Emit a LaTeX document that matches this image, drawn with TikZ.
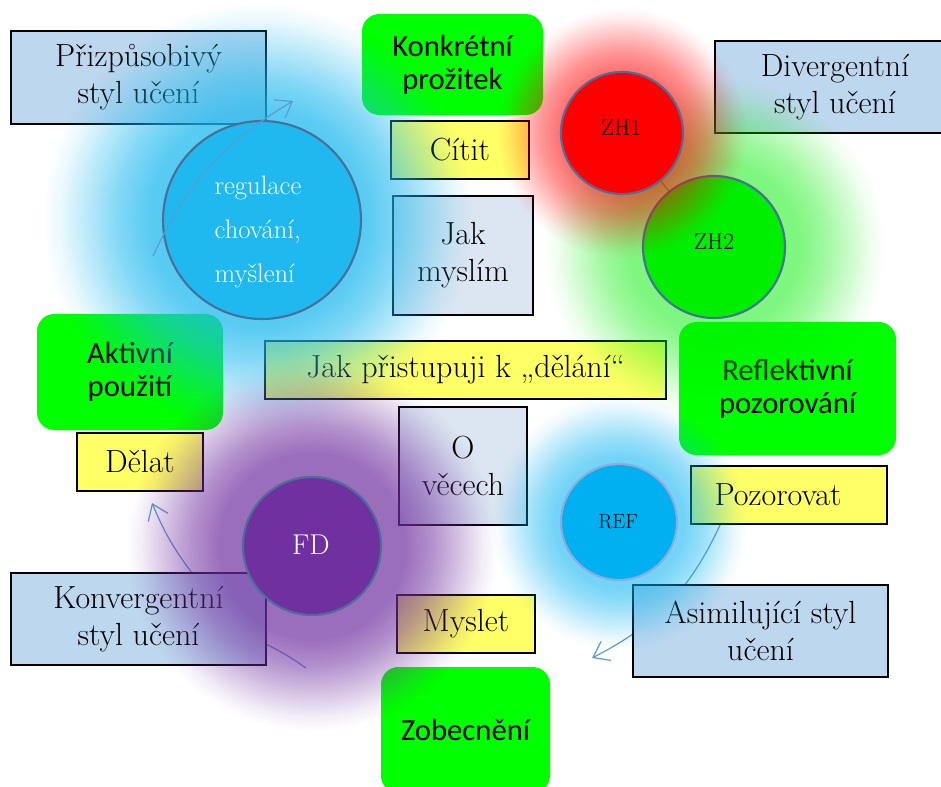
\documentclass[tikz,border=0pt]{standalone}
\usepackage{fontspec}
\newfontfamily\boxsans{Carlito}
\usetikzlibrary{arrows.meta,fadings}

% palette
\definecolor{styleblue}{HTML}{BDD7EE}
\definecolor{paleblue}{HTML}{DCE6F2}
\definecolor{yellowfill}{HTML}{FFFF66}
\definecolor{greenfill}{HTML}{00FF00}
\definecolor{regblue}{HTML}{20B9EF}
\definecolor{refblue}{HTML}{00B0F0}
\definecolor{fdpurple}{HTML}{7030A0}
\definecolor{zhred}{HTML}{FF0000}
\definecolor{zhgreen}{HTML}{00EE00}
\definecolor{ringblue}{HTML}{4A6F98}
\definecolor{ringlight}{HTML}{8FAADC}
\definecolor{arrowblue}{HTML}{5B9BD5}

% soft halo: opaque core, fading out to nothing at the rim of the path
% (25bp of the shading corresponds to the radius of the filled circle)
\pgfdeclareradialshading{haloshade}{\pgfpointorigin}{%
  color(0bp)=(white); color(12.5bp)=(white);
  color(16.25bp)=(white!75!black); color(20bp)=(white!40!black);
  color(23bp)=(white!12!black); color(25bp)=(black); color(50bp)=(black)}
\pgfdeclarefading{halofade}{\pgfuseshading{haloshade}}

\newcommand\serifbig{\fontsize{24}{27.75}\selectfont}
\newcommand\sansbig{\boxsans\fontsize{23}{24.75}\selectfont}

\pgfdeclarelayer{under}
\pgfsetlayers{under,main}

\tikzset{
  stylebox/.style={draw=black, line width=0.8pt, fill=styleblue,
    font=\serifbig, align=center, inner sep=0pt},
  palebox/.style={stylebox, fill=paleblue},
  yellowbox/.style={stylebox, fill=yellowfill},
  greenbox/.style={fill=greenfill, rounded corners=13pt,
    font=\sansbig, align=center, inner sep=0pt},
  ring/.style={circle, draw=ringblue, line width=1.6pt, inner sep=0pt},
  halo/.style={path fading=halofade, fill=#1},
  cyclearrow/.style={draw=arrowblue, line width=0.9pt},
  cyclehead/.style={cyclearrow, -{Straight Barb[length=11pt,width=16pt,line width=0.9pt]}},
}

\begin{document}
\begin{tikzpicture}[x=0.75pt,y=-0.75pt]
\useasboundingbox (0,0) rectangle (941,787);

% ---------- text boxes ----------
\node[stylebox, minimum width=191.25pt, minimum height=69.75pt] (adapt) at (138.5,77.5)
  {Přizpůsobivý\\styl učení};
\node[stylebox, minimum width=180pt, minimum height=69pt] (diverg) at (835,87)
  {Divergentní\\styl učení};
\node[stylebox, minimum width=191.25pt, minimum height=69pt] (konverg) at (138.5,619)
  {Konvergentní\\styl učení};
\node[stylebox, minimum width=191.25pt, minimum height=69pt] (asimil) at (760.5,631)
  {Asimilující styl\\učení};

\node[greenbox, minimum width=135.75pt, minimum height=75.75pt] (konkr) at (452.5,64.5)
  {Konkrétní\\prožitek};
\node[greenbox, minimum width=139.5pt, minimum height=87pt] (aktiv) at (130,372)
  {Aktivní\\použití};
\node[greenbox, minimum width=162.75pt, minimum height=99.75pt] (reflekt) at (787.5,388.5)
  {Reflektivní\\pozorování};
\node[greenbox, minimum width=126.75pt, minimum height=94.5pt] (zobec) at (465.5,730)
  {Zobecnění};

\node[yellowbox, minimum width=103.5pt, minimum height=43.5pt] (citit) at (460,150) {Cítit};
\node[yellowbox, minimum width=94.5pt, minimum height=43.5pt] (delat) at (140,462) {Dělat};
\node[yellowbox, minimum width=300.75pt, minimum height=43.5pt] (pristup) at (465.5,370)
  {Jak přistupuji k „dělání“};
\node[yellowbox, minimum width=147pt, minimum height=43.5pt] (pozor) at (789,495)
  {Pozorovat\hspace*{16.5pt}};
\node[yellowbox, minimum width=103.5pt, minimum height=43.5pt] (myslet) at (466,624) {Myslet};

\node[palebox, minimum width=105pt, minimum height=89.25pt] (jakmys) at (463,255.5)
  {Jak\\myslím};
\node[palebox, minimum width=96pt, minimum height=88.5pt] (ovecech) at (463,466)
  {O\\věcech};

% ---------- halos and circles ----------
\fill[halo=regblue, fill opacity=0.75] (258,218) circle (215);
\node[ring, fill=regblue, minimum size=148.5pt] (reg) at (262,220) {};
\node[font=\fontsize{20}{33}\selectfont, text=white, align=left, inner sep=0pt]
  (regtext) at (258,232) {regulace\\chování,\\myšlení};

\fill[halo=zhgreen, fill opacity=0.5] (714,247) circle (170);
\node[ring, fill=zhgreen, minimum size=106.5pt] (zh2) at (714,247) {};
\node[font=\fontsize{17.5}{20}\selectfont, inner sep=0pt] (zh2text) at (714,242) {ZH2};

\fill[halo=zhred, fill opacity=0.55] (622,133) circle (125);
\node[ring, fill=zhred, minimum size=91.5pt] (zh1) at (622,133) {};
\node[font=\fontsize{17.5}{20}\selectfont, inner sep=0pt] (zh1text) at (621,128) {ZH1};

\fill[halo=fdpurple, fill opacity=0.7] (312,546) circle (185);
\node[ring, fill=fdpurple, minimum size=103.5pt] (fd) at (312,546) {};
\node[font=\fontsize{21.5}{25}\selectfont, text=white, inner sep=0pt] (fdtext) at (311,545) {FD};

\fill[halo=refblue, fill opacity=0.55] (619,522) circle (128);
\node[ring, draw=ringlight, fill=refblue, minimum size=87pt] (ref) at (619,522) {};
\node[font=\fontsize{15.5}{18}\selectfont, inner sep=0pt] (reftext) at (618,522) {REF};

% ---------- connectors ----------
\coordinate (cycA) at (153,256);
\coordinate (cycB) at (293,101);
\coordinate (cycC) at (192,573);
\coordinate (cycD) at (152,503);
\coordinate (cycE) at (266,644);
\coordinate (cycF) at (306,668);
\coordinate (cycG) at (720,525);
\coordinate (cycH) at (592,658);

\begin{pgfonlayer}{under}
  \draw[draw=black!55, line width=0.7pt] (zh1) -- (zh2);
  \draw[cyclehead] (cycC) to[bend left=7] (cycD);
  \draw[cyclearrow] (cycE) to[bend left=4] (cycF);
  \draw[cyclehead] (cycG) to[bend left=19] (cycH);
\end{pgfonlayer}

\draw[cyclehead] (cycA) to[bend left=17] (cycB);

\end{tikzpicture}
\end{document}
